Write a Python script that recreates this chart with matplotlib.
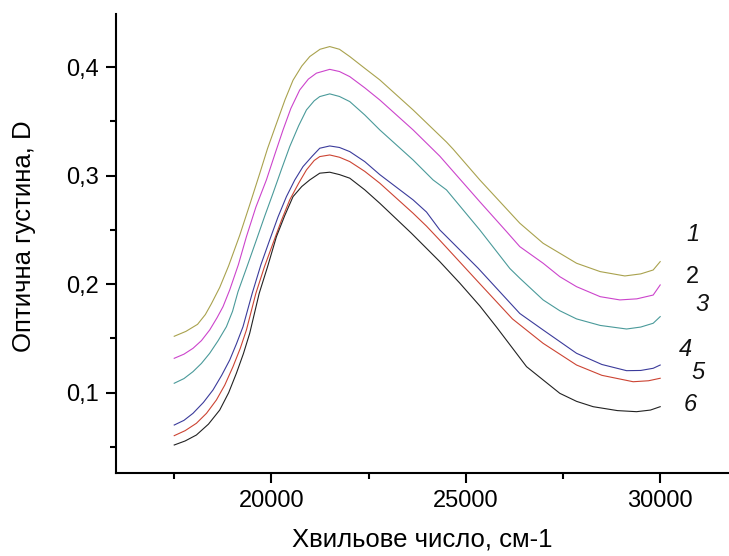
import matplotlib
matplotlib.use("Agg")
import matplotlib.pyplot as plt
from matplotlib.ticker import MultipleLocator, FuncFormatter

plt.rcParams['font.family'] = ['Liberation Sans', 'DejaVu Sans']

# Curve data (wavenumber, optical density)
x1 = [17500, 17800, 18100, 18300, 18456, 18670, 18900, 19184, 19440, 19699, 19900, 20129,
      20350, 20556, 20780, 20986, 21250, 21500, 21750, 22015, 22400, 22787, 23644, 24503,
      24673, 25360, 26389, 26989, 27419, 27849, 28456, 29091, 29500, 29820, 30000]
y1 = [0.152, 0.1565, 0.163, 0.172, 0.182, 0.197, 0.217, 0.245, 0.273, 0.302, 0.325, 0.348,
      0.370, 0.388, 0.401, 0.4098, 0.4165, 0.419, 0.4165, 0.4098, 0.399, 0.3883, 0.3606, 0.331,
      0.3245, 0.2961, 0.2562, 0.2377, 0.2285, 0.2193, 0.2116, 0.2076, 0.2095, 0.2131, 0.2208]

x2 = [17500, 17750, 17983, 18200, 18412, 18600, 18755, 18927, 19150, 19357, 19600, 19871,
      20100, 20299, 20500, 20728, 20950, 21158, 21500, 21750, 22015, 22400, 22787, 23644,
      24331, 24845, 25360, 26047, 26389, 26989, 27419, 27849, 28456, 28963, 29400, 29820, 30000]
y2 = [0.1317, 0.1355, 0.1409, 0.148, 0.1578, 0.169, 0.1793, 0.1947, 0.218, 0.2438, 0.271, 0.2961,
      0.321, 0.3422, 0.362, 0.379, 0.389, 0.3945, 0.398, 0.396, 0.3913, 0.381, 0.3698, 0.3422,
      0.318, 0.297, 0.276, 0.2485, 0.2346, 0.2193, 0.2069, 0.1977, 0.1885, 0.1855, 0.1865, 0.190, 0.1993]

x3 = [17500, 17750, 17983, 18200, 18412, 18630, 18842, 19000, 19140, 19380, 19614, 19830,
      20041, 20260, 20471, 20700, 20901, 21100, 21243, 21500, 21750, 22015, 22400, 22787,
      23644, 24158, 24331, 24503, 25360, 26132, 26389, 26989, 27419, 27849, 28456, 29135,
      29500, 29820, 30000]
y3 = [0.1087, 0.113, 0.1194, 0.127, 0.1363, 0.148, 0.1608, 0.175, 0.193, 0.217, 0.2408, 0.263,
      0.2838, 0.306, 0.3268, 0.346, 0.3606, 0.369, 0.3729, 0.3754, 0.373, 0.3683, 0.356, 0.3422,
      0.3145, 0.2961, 0.2915, 0.2869, 0.25, 0.2145, 0.2055, 0.1855, 0.1755, 0.168, 0.162, 0.1587,
      0.1605, 0.164, 0.1701]

x4 = [17500, 17750, 17983, 18250, 18497, 18720, 18927, 19100, 19269, 19506, 19730, 19956,
      20170, 20386, 20600, 20813, 21050, 21243, 21500, 21750, 22015, 22400, 22787, 23644,
      23989, 24331, 24416, 25318, 26132, 26389, 26989, 27849, 28500, 29135, 29500, 29820, 30000]
y4 = [0.0702, 0.0745, 0.081, 0.091, 0.1025, 0.116, 0.1301, 0.145, 0.1608, 0.1916, 0.218, 0.2408,
      0.262, 0.2807, 0.296, 0.3084, 0.318, 0.3253, 0.3274, 0.326, 0.3222, 0.313, 0.301, 0.2777,
      0.2665, 0.25, 0.247, 0.2147, 0.183, 0.173, 0.1578, 0.1363, 0.126, 0.1203, 0.1205, 0.1225, 0.1255]

x5 = [17500, 17780, 18070, 18330, 18585, 18800, 19012, 19200, 19357, 19600, 19820, 20041,
      20260, 20471, 20700, 20901, 21100, 21243, 21500, 21750, 22015, 22400, 22787, 23644,
      23989, 24331, 25320, 26200, 26989, 27849, 28500, 29305, 29700, 30000]
y5 = [0.0604, 0.065, 0.0718, 0.081, 0.0933, 0.107, 0.124, 0.141, 0.1578, 0.1916, 0.216, 0.2377,
      0.259, 0.2777, 0.293, 0.3053, 0.314, 0.3176, 0.3191, 0.317, 0.313, 0.304, 0.2931, 0.2654,
      0.2535, 0.2405, 0.202, 0.168, 0.1455, 0.1255, 0.116, 0.1101, 0.111, 0.1133]

x6 = [17500, 17780, 18070, 18380, 18670, 18900, 19099, 19280, 19442, 19686, 19900, 20129,
      20340, 20556, 20780, 20986, 21243, 21500, 21750, 22015, 22400, 22787, 23600, 24331,
      24845, 25360, 25800, 26562, 27419, 27850, 28276, 28900, 29392, 29750, 30000]
y6 = [0.0518, 0.0555, 0.061, 0.071, 0.084, 0.100, 0.1179, 0.136, 0.1548, 0.1916, 0.216, 0.2438,
      0.263, 0.2807, 0.290, 0.2961, 0.3023, 0.3032, 0.301, 0.2977, 0.287, 0.2746, 0.247, 0.2208,
      0.201, 0.180, 0.160, 0.124, 0.0994, 0.092, 0.0871, 0.0835, 0.0825, 0.084, 0.0871]

series = [(x1, y1), (x2, y2), (x3, y3), (x4, y4), (x5, y5), (x6, y6)]
colors = ['#a9a24e', '#cc44cc', '#4a9a9a', '#3b3b9b', '#cc4433', '#222222']

curve_labels = ['1', '2', '3', '4', '5', '6']
label_x = [30841, 30841, 31065, 30636, 30970, 30764]
label_y = [0.2454, 0.207, 0.1809, 0.1394, 0.1182, 0.0887]
label_style = ['italic', 'normal', 'italic', 'italic', 'italic', 'italic']

fig = plt.figure(figsize=(7.29, 5.56), dpi=100)
ax = fig.add_axes([0.159, 0.1493, 0.841, 0.8255])

for (xs, ys), c in zip(series, colors):
    ax.plot(xs, ys, color=c, lw=0.8)

for t, lx, ly, st in zip(curve_labels, label_x, label_y, label_style):
    ax.text(lx, ly, t, fontsize=17, style=st, ha='center', va='center', color='#111111')

ax.set_xlim(16000, 31770)
ax.set_ylim(0.026, 0.449)

ax.spines['top'].set_visible(False)
ax.spines['right'].set_visible(False)
for s in ['left', 'bottom']:
    ax.spines[s].set_linewidth(1.5)

ax.xaxis.set_major_locator(MultipleLocator(5000))
ax.xaxis.set_minor_locator(MultipleLocator(2500))
ax.yaxis.set_major_locator(MultipleLocator(0.1))
ax.yaxis.set_minor_locator(MultipleLocator(0.05))
ax.yaxis.set_major_formatter(FuncFormatter(lambda v, p: f"{v:.1f}".replace('.', ',')))
ax.xaxis.set_major_formatter(FuncFormatter(lambda v, p: f"{int(v)}"))

ax.tick_params(which='major', length=7, width=1.5, labelsize=17, direction='out', pad=5)
ax.tick_params(which='minor', length=4.5, width=1.5, direction='out')

ax.set_xlabel('Хвильове число, см-1', fontsize=18.5)
ax.set_ylabel('Оптична густина, D', fontsize=18.5)
ax.xaxis.set_label_coords(0.5, -0.146)
ax.yaxis.set_label_coords(-0.150, 0.516)
ax.xaxis.label.set_va('center')
ax.yaxis.label.set_va('center')

fig.savefig('out.png', dpi=100)
